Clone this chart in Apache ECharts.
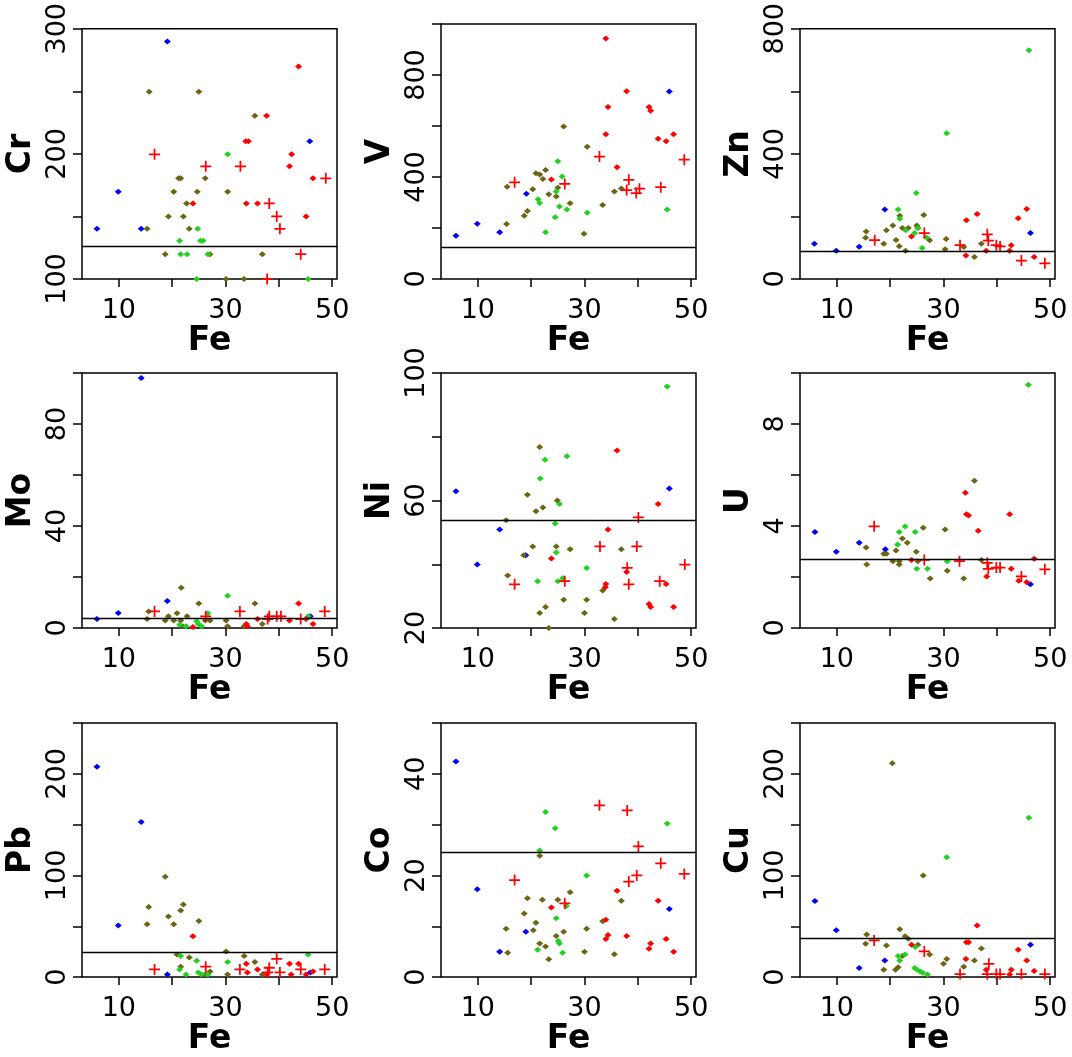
<!DOCTYPE html>
<html>
<head>
<meta charset="utf-8">
<script src="https://cdn.jsdelivr.net/npm/echarts@6/dist/echarts.min.js"></script>
<style>
html, body { margin: 0; background: #fff; }
#chart { width: 1072px; height: 1057px; }
</style>
</head>
<body>
<div id="chart"></div>
<script>
// panel names (y axis of each small plot), x is always Fe
const elements = ['Cr', 'V', 'Zn', 'Mo', 'Ni', 'U', 'Pb', 'Co', 'Cu']

// y axis limits, ticks and labelled ticks per panel
const yMin = [100, 0, 0, 0, 20, 0, 0, 0, 0]
const yMax = [300, 1000, 800, 100, 100, 10, 250, 50, 250]
const yTicks = [
	[100, 150, 200, 250, 300],
	[0, 200, 400, 600, 800, 1000],
	[0, 200, 400, 600, 800],
	[0, 20, 40, 60, 80, 100],
	[20, 40, 60, 80, 100],
	[0, 2, 4, 6, 8, 10],
	[0, 50, 100, 150, 200, 250],
	[0, 10, 20, 30, 40, 50],
	[0, 50, 100, 150, 200, 250]
]
const yLabels = [
	[100, 200, 300],
	[0, 400, 800],
	[0, 400, 800],
	[0, 40, 80],
	[20, 60, 100],
	[0, 4, 8],
	[0, 100, 200],
	[0, 20, 40],
	[0, 100, 200]
]
// x axis (Fe)
const xRange = [3.1, 50.9]
const xTicks = [10, 20, 30, 40, 50]
const xLabels = [10, 30, 50]

// horizontal reference line of each panel
const refLines = [126, 126, 90, 3.9, 53.8, 2.71, 24.3, 24.6, 38]

// Cr
const crBlue = [[19.1, 289.8], [9.9, 169.8], [5.9, 140.1], [14.2, 140.1], [45.8, 210.1]]
const crOlive = [[15.7, 249.7], [25, 249.7], [35.5, 230.5], [21.2, 180.5], [21.6, 180.5], [26.2, 180.5], [20.3, 169.8], [24.7, 169.8], [30.4, 169.8], [22.7, 160.4], [19.3, 150], [22.1, 150], [15.3, 140.1], [23.2, 140.1], [18.7, 119.8], [27.1, 119.8], [36.9, 119.8], [30.1, 100], [33.5, 100]]
const crGreen = [[30.4, 199.7], [24.8, 140.1], [21.4, 130.5], [25.3, 130.5], [25.8, 130.5], [21.6, 119.8], [22.8, 119.8], [26.7, 119.8], [24.6, 100], [45.5, 100]]
const crRed = [[43.7, 269.8], [37.7, 230.5], [33.8, 210.1], [34.3, 210.1], [42.4, 199.7], [42, 190.1], [46.4, 180.5], [23.9, 160.4], [33.9, 160.4], [36, 160.4], [45.1, 150]]
const crPlus = [[16.7, 199.7], [26.3, 190.1], [32.8, 190.1], [48.8, 180.5], [38.2, 160.4], [39.6, 150], [40.2, 140.1], [44.1, 119.8], [37.8, 100]]

// V
const vBlue = [[5.9, 170], [9.9, 217], [14.1, 183], [19.1, 334], [45.9, 735]]
const vOlive = [[15.5, 362], [15.4, 216], [18.7, 248], [19.3, 267], [20.3, 352], [20.9, 415], [21.6, 410], [22.2, 392], [22.7, 427], [23.3, 332], [24.7, 324], [25, 358], [26.1, 598], [27.3, 297], [29.9, 177], [30.5, 519], [33.4, 290], [35.6, 343], [36.9, 355]]
const vGreen = [[25, 462], [25.8, 402], [24.7, 343], [21.3, 313], [21.6, 298], [22.7, 183], [24.5, 242], [25.3, 284], [26.7, 273], [30.5, 260], [45.5, 273]]
const vRed = [[34, 943], [37.9, 736], [34.4, 675], [42.1, 675], [42.4, 660], [34, 568], [43.8, 550], [45.3, 540], [46.7, 568], [36.1, 438], [23.8, 390]]
const vPlus = [[16.9, 379], [26.3, 373], [32.8, 480], [38.3, 389], [37.9, 349], [39.7, 337], [40.3, 354], [44.3, 360], [48.7, 468]]

// Zn
const znBlue = [[5.8, 113], [9.9, 90], [14.2, 103], [19, 222], [46.3, 147]]
const znOlive = [[15.5, 152], [15.4, 132], [18.8, 113], [19.3, 156], [20.5, 171], [21.1, 125], [21.7, 105], [21.8, 202], [22.3, 163], [22.9, 90], [23.4, 163], [25, 171], [25.2, 163], [26.3, 205], [27.4, 124], [30.5, 128], [30.3, 95], [33.8, 102], [35.8, 70], [37.1, 113]]
const znGreen = [[46, 731], [30.6, 466], [24.9, 275], [21.5, 222], [21.8, 193], [22.9, 156], [24.6, 147], [25.2, 163], [26.8, 133], [26, 99]]
const znRed = [[36.3, 208], [34.3, 188], [44, 194], [45.6, 224], [24, 136], [34.2, 75], [38, 90], [42.4, 90], [42.7, 108], [47, 70]]
const znPlus = [[17.1, 124], [26.4, 147], [33.1, 108], [38.2, 143], [38.4, 123], [39.9, 108], [40.6, 104], [44.6, 59], [49, 50]]

// Mo
const moBlue = [[5.9, 3.5], [9.9, 5.9], [14.2, 98], [19.1, 10.6], [45.9, 4.6]]
const moOlive = [[15.6, 6.5], [15.3, 3.5], [18.7, 2.9], [19.3, 4.6], [20.3, 2.9], [20.9, 5.8], [21.7, 15.8], [21.6, 2.9], [22.8, 4.6], [25, 9.6], [26.2, 2.9], [27.1, 2.9], [30.1, 2.9], [30.4, 0.7], [33.5, 0.7], [35.5, 9.6], [36.9, 1.6], [22, 0.7]]
const moGreen = [[30.4, 12.6], [26.7, 5.8], [21.4, 1.3], [24.6, 2.6], [24.9, 1.6], [25.5, 0.7], [22.6, 0.7], [45.5, 4.6]]
const moRed = [[43.7, 9.6], [36, 3.5], [33.9, 1.6], [34.1, 0.7], [23.9, 0.4], [42, 2.9], [45.1, 3.5], [46.4, 1.6]]
const moPlus = [[16.7, 6.5], [26.3, 4.6], [32.7, 6.5], [37.9, 3.5], [38.2, 4.6], [39.6, 4.6], [40.4, 4.6], [44.1, 3.5], [48.6, 6.5]]

// Ni
const niBlue = [[5.9, 62.9], [14.1, 50.9], [9.9, 39.9], [19, 42.8], [45.9, 63.8]]
const niOlive = [[21.6, 76.8], [19.3, 61.8], [24.9, 60], [22.2, 57.8], [20.9, 56.6], [15.3, 53.8], [20.3, 45.6], [24.7, 45.6], [27.3, 44.7], [18.6, 42.8], [15.6, 36.5], [36.9, 44.7], [26.1, 28.9], [30.4, 28.9], [22.7, 26.6], [21.6, 24.7], [30, 24.7], [35.6, 22.8], [33.4, 31.8], [23.3, 20]]
const niGreen = [[45.5, 95.8], [26.7, 73.9], [22.6, 72.8], [21.7, 66.9], [25.3, 58.9], [24.5, 52.8], [24.7, 43.7], [30.4, 38.8], [21.2, 34.7], [25, 34.7], [25.9, 35.6]]
const niRed = [[36.1, 75.7], [43.8, 58.9], [34.4, 50.9], [23.8, 41.8], [37.9, 37.6], [34, 33.8], [33.9, 32.8], [42.1, 27.5], [42.4, 26.6], [46.7, 26.6], [45.3, 33.8]]
const niPlus = [[40.1, 54.7], [32.9, 45.6], [39.8, 45.6], [48.8, 39.9], [38, 38.9], [38.3, 33.7], [44.1, 34.7], [16.9, 33.7], [26.3, 34.7]]

// U
const uBlue = [[5.9, 3.76], [9.9, 2.99], [14.2, 3.34], [19.1, 3.09], [46.3, 1.72]]
const uOlive = [[15.5, 3.16], [15.6, 2.49], [18.8, 2.91], [19.3, 2.91], [20.5, 2.62], [21.1, 3.04], [21.7, 2.49], [21.7, 2.62], [22.3, 3.51], [23.2, 3.34], [24.9, 2.99], [25.2, 2.62], [26.2, 3.93], [27.5, 1.94], [30.3, 3.86], [30.7, 2.25], [33.8, 1.94], [35.8, 5.77], [37.1, 2.67]]
const uGreen = [[45.9, 9.54], [22.8, 3.98], [21.7, 3.76], [24.7, 3.76], [21.4, 3.27], [25, 2.32], [27, 2.32], [30.7, 2.62]]
const uRed = [[34.1, 5.3], [34.3, 4.46], [34.7, 4.41], [36.5, 3.81], [42.4, 4.46], [24, 2.67], [47, 2.72], [38.1, 2.02], [42.7, 2.32], [44.1, 1.85], [45.6, 1.79]]
const uPlus = [[17, 3.99], [26.4, 2.67], [33, 2.62], [38.2, 2.55], [38.4, 2.32], [39.9, 2.37], [40.6, 2.37], [44.6, 2.02], [49, 2.3]]

// Pb
const pbBlue = [[5.9, 206.9], [14.2, 152.5], [9.9, 50.8], [19.1, 2.6], [45.9, 4.6]]
const pbOlive = [[18.7, 98.7], [22.1, 71.5], [15.6, 68.9], [21.6, 65.6], [19.3, 59.7], [25, 55.1], [15.3, 52.1], [20.3, 52.1], [30.1, 25.2], [20.9, 22.3], [23.2, 19.3], [33.5, 20.7], [35.5, 14.8], [21.6, 10.2], [27.1, 5.6], [30.4, 2.6], [36.9, 2.6], [26.2, 2.6]]
const pbGreen = [[45.5, 22.3], [21.6, 20.7], [24.6, 16.1], [30.4, 14.8], [21.4, 7.5], [22.6, 2.6], [24.9, 4.6], [25.5, 2.6], [26.7, 2.6]]
const pbRed = [[23.9, 40.3], [33.9, 13.1], [34.1, 4.6], [36, 7.5], [42, 13.1], [43.7, 13.1], [42.3, 2.6], [45.1, 2.6], [46.4, 5.6], [37.8, 2.6]]
const pbPlus = [[16.7, 7.5], [26.3, 10.2], [32.7, 7.5], [37.9, 4.6], [38.2, 9.2], [39.6, 18], [40.2, 4.6], [44.1, 7.5], [48.6, 7.5]]

// Co
const coBlue = [[5.9, 42.4], [9.9, 17.3], [14.1, 5], [19, 8.9], [45.9, 13.4]]
const coOlive = [[21.6, 23.9], [19.3, 15.5], [22.1, 15.2], [25, 15.2], [27.3, 16.7], [18.7, 12.5], [20.9, 10.7], [20.4, 9.2], [15.3, 9.5], [24.7, 8.1], [26.1, 8.9], [30.4, 9.5], [21.6, 6.6], [22.7, 6], [15.6, 4.8], [23.3, 3.5], [30, 5], [35.6, 4.5], [33.4, 11], [36.9, 15]]
const coGreen = [[22.7, 32.5], [24.5, 29.3], [45.5, 30.2], [21.6, 24.9], [30.4, 20], [26.6, 14], [24.7, 11.6], [25.1, 7.1], [25.3, 6.6], [21.2, 5.4], [25.9, 4.8]]
const coRed = [[36.1, 17], [43.8, 15], [23.8, 13.7], [34, 11.3], [34.4, 8.3], [34, 7.5], [37.9, 8.1], [42.4, 6.6], [42.1, 5.6], [45.3, 7.5], [46.7, 5]]
const coPlus = [[32.8, 33.8], [38, 32.8], [40.1, 25.7], [44.3, 22.4], [48.7, 20.3], [39.8, 20], [38.3, 18.8], [16.9, 19.1], [26.3, 14.5]]

// Cu
const cuBlue = [[5.9, 74.8], [9.9, 46.2], [14.2, 8.9], [19, 16.4], [46.3, 31.8]]
const cuOlive = [[20.4, 210.5], [26.2, 100], [21.8, 47.2], [15.6, 42], [22.8, 40.3], [23.4, 37.7], [15.4, 32.8], [25.2, 31.8], [19.3, 31.1], [37.1, 28.2], [27.4, 22.3], [22.3, 20.7], [30.6, 17.7], [30, 13.1], [35.8, 16.4], [33.8, 10.2], [21.5, 9.8], [21, 7.2], [18.8, 7.2]]
const cuGreen = [[46, 156.7], [30.6, 118], [24.7, 29.5], [22.8, 22.3], [21.5, 20.7], [21.8, 16.4], [24.6, 8.9], [25, 7.5], [25.6, 5.6], [26.1, 4.3], [27, 2.6]]
const cuRed = [[36.3, 50.8], [24, 31.8], [34.3, 34.4], [34.7, 34.4], [44, 26.9], [45.6, 16.4], [34.2, 17.7], [38, 7.2], [42.7, 7.2], [42.4, 2.6], [47, 5.9]]
const cuPlus = [[17, 36.1], [26.4, 25.2], [38.5, 13.1], [33.1, 3], [38.2, 3], [39.9, 3], [40.6, 3], [44.6, 3], [49, 3]]

// series groups of each panel, same order as groupColors
const panelData = [
	[crBlue, crOlive, crGreen, crRed, crPlus],
	[vBlue, vOlive, vGreen, vRed, vPlus],
	[znBlue, znOlive, znGreen, znRed, znPlus],
	[moBlue, moOlive, moGreen, moRed, moPlus],
	[niBlue, niOlive, niGreen, niRed, niPlus],
	[uBlue, uOlive, uGreen, uRed, uPlus],
	[pbBlue, pbOlive, pbGreen, pbRed, pbPlus],
	[coBlue, coOlive, coGreen, coRed, coPlus],
	[cuBlue, cuOlive, cuGreen, cuRed, cuPlus]
]

const groupColors = ['#0000ff', '#6b6514', '#22d022', '#ff0000', '#ff0000']
// filled cross for the "+" marks
const plusPath = 'path://M4.2,0H5.8V4.2H10V5.8H5.8V10H4.2V5.8H0V4.2H4.2Z'

// layout of the 3x3 grid
const colLeft = [82, 441, 800]
const rowTop = [24, 373, 723]
const boxW = 255
const boxH = 255

const font = 'DejaVu Sans'

let grids = [], xAxes = [], yAxes = [], series = []
elements.forEach((name, i) => {
	const col = i % 3, row = Math.floor(i / 3)
	grids.push({
		left: colLeft[col], top: rowTop[row], width: boxW, height: boxH,
		show: true, borderColor: '#000', borderWidth: 1.5, backgroundColor: 'transparent'
	})
	xAxes.push({
		type: 'value', gridIndex: i, min: xRange[0], max: xRange[1],
		axisLine: { show: false },
		axisTick: { show: true, customValues: xTicks, length: 8, lineStyle: { color: '#000', width: 1.5 } },
		axisLabel: { customValues: xLabels, margin: 18, fontSize: 27, fontFamily: font, color: '#000' },
		splitLine: { show: false },
		name: 'Fe', nameLocation: 'middle', nameGap: 45,
		nameTextStyle: { fontSize: 33, fontWeight: 'bold', fontFamily: font, color: '#000' }
	})
	yAxes.push({
		type: 'value', gridIndex: i, min: yMin[i], max: yMax[i],
		axisLine: { show: false },
		axisTick: { show: true, customValues: yTicks[i], length: 9, lineStyle: { color: '#000', width: 1.5 } },
		axisLabel: { customValues: yLabels[i], rotate: 90, margin: 11, fontSize: 27, fontFamily: font, color: '#000' },
		splitLine: { show: false },
		name: name, nameLocation: 'middle', nameRotate: 90, nameGap: 44,
		nameTextStyle: { fontSize: 33, fontWeight: 'bold', fontFamily: font, color: '#000' }
	})
	panelData[i].forEach((pts, g) => {
		const isPlus = g === 4
		const s = {
			type: 'scatter', xAxisIndex: i, yAxisIndex: i, data: pts,
			symbol: isPlus ? plusPath : 'diamond',
			symbolSize: isPlus ? 11 : [7, 6],
			itemStyle: { color: groupColors[g], opacity: 1 },
			silent: true
		}
		// reference line drawn with the first group of the panel
		if (g === 0) {
			s.markLine = {
				silent: true, symbol: 'none', animation: false,
				label: { show: false },
				lineStyle: { color: '#000', width: 1.3, type: 'solid' },
				data: [{ yAxis: refLines[i] }]
			}
		}
		series.push(s)
	})
})

let chart = echarts.init(document.getElementById('chart'))
chart.setOption({
	animation: false,
	backgroundColor: '#fff',
	textStyle: { fontFamily: font },
	grid: grids,
	xAxis: xAxes,
	yAxis: yAxes,
	series: series
})
</script>
</body>
</html>
